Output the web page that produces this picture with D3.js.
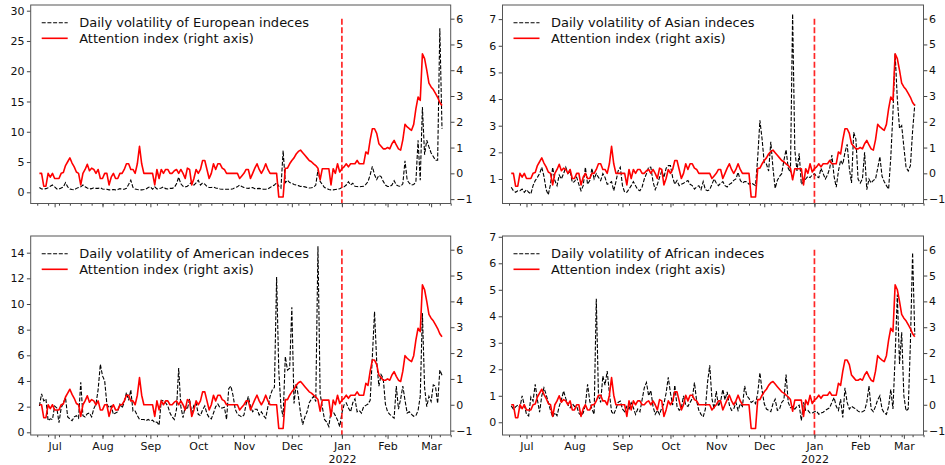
<!DOCTYPE html>
<html>
<head>
<meta charset="utf-8">
<script src="https://cdn.jsdelivr.net/npm/d3@7"></script>
<style>
body { margin: 0; background: #fff; }
text { font-family: "DejaVu Sans", sans-serif; }
</style>
</head>
<body>
<script>
// Attention index (right axis), one value per business day, Jun 22 2021 .. Mar 8 2022
var attention = [
 0, 0, -0.5, -0.5, 0, -0.15, 0, -0.2, -0.2, -0.2,
 0, 0.03, 0.3, 0.45, 0.6, 0.4, 0.25, 0.05, 0, -0.45,
 0, 0.15, 0.35, 0.1, 0.2, 0.15, 0, 0.15, -0.2, -0.2,
 0, 0, -0.45, -0.15, 0, -0.2, -0.2, 0, 0, 0.15,
 0.37, 0.37, 0.15, 0.15, 0, 0.37, 1.05, 0.37, 0, 0,
 0, 0, 0, -0.45, 0.15, -0.2, 0.15, 0, 0.15, 0.15,
 0, 0, 0.1, 0.15, 0, 0.15, 0, -0.2, 0.2, 0.15,
 -0.45, -0.2, 0.15, 0, 0.15, 0.5, 0.5, 0.15, -0.2, 0,
 0.37, 0.15, 0.37, 0.37, 0.2, 0.15, 0, 0, 0, 0,
 0, 0, -0.2, -0.1, 0, 0.15, 0.15, -0.2, 0, 0.2,
 0.37, 0.15, 0, 0.15, 0.37, 0.15, 0, 0, 0, 0,
 -0.92, -0.92, -0.92, 0.2, 0.2, 0.37, 0.5, 0.6, 0.75, 0.85,
 0.9, 0.8, 0.7, 0.6, 0.5, 0.45, 0.37, 0.3, 0.2, -0.25,
 0.18, 0.18, 0.18, 0.18, -0.45, 0.18, 0, 0.37, 0.05, 0.18,
 0.25, 0.37, 0.25, 0.37, 0.37, 0.37, 0.5, 0.37, 0.37, 0.37,
 0.83, 0.75, 1.3, 1.73, 1.73, 1.55, 1.15, 1.05, 0.95, 0.95,
 1.0, 0.95, 1.15, 1.28, 1.1, 0.95, 0.9, 1.3, 1.9, 1.8,
 1.73, 1.67, 1.9, 2.5, 2.96, 2.83, 4.64, 4.45, 4.0, 3.5,
 3.35, 3.25, 3.1, 2.95, 2.75, 2.63
];

var volEurope = [
 0.8, 0.55, 0.55, 0.6, 0.75, 1.0, 1.2, 0.9, 0.55, 0.55,
 0.7, 0.9, 1.6, 0.9, 0.55, 0.45, 0.4, 0.65, 0.8, 0.9,
 1.2, 0.9, 0.7, 0.55, 0.6, 0.75, 0.65, 0.65, 0.75, 0.55,
 0.5, 0.5, 0.4, 0.4, 0.45, 0.4, 0.45, 0.6, 0.5, 0.5,
 0.65, 1.3, 2.0, 0.8, 0.55, 0.45, 0.4, 0.4, 0.45, 0.55,
 0.8, 0.9, 0.5, 0.9, 0.55, 0.6, 0.7, 0.9, 0.6, 0.55,
 0.65, 0.65, 0.8, 1.4, 2.5, 1.4, 1.0, 0.9, 1.0, 1.35,
 1.7, 1.2, 1.55, 2.0, 1.2, 1.55, 1.35, 0.95, 0.8, 0.8,
 0.85, 0.7, 0.65, 0.55, 0.5, 0.5, 0.5, 0.5, 0.5, 0.6,
 0.8, 0.9, 1.2, 0.95, 0.8, 0.7, 0.65, 0.75, 0.8, 0.6,
 0.6, 0.65, 0.55, 0.5, 0.5, 0.55, 0.8, 1.0, 1.2, 1.6,
 1.0, 0.7, 6.9, 1.6, 2.0, 1.6, 1.5, 1.3, 1.2, 1.1,
 0.95, 1.0, 0.9, 0.8, 0.7, 0.75, 0.85, 1.2, 3.7, 1.8,
 1.3, 0.8, 0.65, 0.45, 0.4, 0.4, 0.45, 0.5, 0.6, 0.8,
 0.9, 1.2, 1.76, 1.2, 1.5, 1.0, 0.95, 0.9, 0.95, 1.0,
 1.3, 1.76, 2.9, 4.3, 2.9, 2.1, 2.8, 2.6, 1.8, 1.2,
 0.95, 0.95, 1.2, 1.9, 1.2, 1.05, 1.0, 1.4, 5.2, 2.0,
 1.5, 1.2, 1.3, 1.7, 8.6, 2.0, 14.1, 6.2, 8.6, 7.5,
 6.5, 5.9, 5.3, 5.3, 27.1, 10.5
];

var volAsia = [
 0.69, 0.56, 0.5, 0.56, 0.56, 0.62, 0.5, 0.6, 0.5, 0.44,
 0.75, 0.94, 1.06, 1.2, 1.44, 1.1, 0.6, 0.41, 0.8, 1.44,
 0.94, 0.75, 1.15, 1.0, 1.2, 1.44, 1.2, 1.3, 0.87, 0.9,
 1.06, 0.8, 0.56, 0.75, 1.44, 0.8, 0.94, 1.4, 1.0, 1.2,
 1.06, 0.94, 1.2, 1.06, 0.8, 0.84, 0.9, 0.56, 0.9, 1.3,
 1.44, 0.75, 0.5, 0.5, 0.62, 0.75, 0.9, 0.75, 0.6, 0.56,
 0.7, 1.0, 1.2, 1.45, 1.44, 0.9, 0.6, 0.8, 1.06, 1.3,
 1.06, 1.4, 1.5, 1.5, 1.06, 0.8, 0.94, 0.75, 0.8, 0.84,
 0.9, 0.94, 0.8, 0.75, 0.62, 0.7, 0.75, 0.6, 0.9, 0.6,
 0.56, 0.6, 0.8, 1.0, 0.85, 0.75, 0.84, 0.9, 0.75, 0.7,
 0.8, 0.85, 0.95, 1.0, 1.25, 0.95, 0.85, 0.9, 0.9, 0.8,
 0.85, 0.8, 0.75, 1.8, 3.2, 2.5, 1.6, 1.56, 1.3, 2.4,
 1.4, 0.65, 0.95, 1.1, 1.2, 1.7, 2.1, 1.4, 1.25, 7.2,
 2.1, 1.3, 1.96, 0.8, 0.9, 1.0, 1.1, 1.05, 1.15, 1.2,
 1.1, 1.05, 1.4, 1.2, 1.0, 1.15, 1.4, 1.9, 1.1, 0.69,
 1.3, 1.7, 1.55, 2.0, 2.3, 1.4, 0.85, 2.75, 2.5, 1.0,
 0.85, 1.0, 2.0, 0.6, 1.0, 0.85, 0.95, 1.0, 1.4, 1.84,
 1.1, 0.9, 0.75, 0.62, 1.8, 3.5, 5.7, 4.0, 2.9, 3.0,
 2.2, 1.44, 1.3, 1.5, 2.8, 3.8
];

var volAmerica = [
 2.05, 3.0, 2.45, 2.6, 0.9, 1.05, 1.0, 2.05, 1.9, 0.75,
 1.9, 2.3, 2.7, 1.2, 1.05, 0.9, 1.2, 1.3, 1.1, 3.9,
 1.3, 1.2, 1.45, 1.5, 1.2, 1.85, 2.2, 3.35, 5.3, 4.4,
 4.0, 2.2, 1.9, 2.05, 1.4, 1.5, 1.6, 2.2, 1.9, 2.35,
 3.1, 2.5, 3.3, 1.65, 1.65, 1.3, 1.0, 1.0, 1.0, 0.9,
 1.0, 0.9, 0.95, 0.75, 0.8, 0.55, 2.5, 2.45, 2.3, 2.05,
 1.5, 1.2, 1.0, 1.8, 5.0, 2.0, 1.15, 2.0, 1.8, 2.6,
 1.5, 2.1, 2.3, 1.4, 1.3, 1.75, 2.05, 1.45, 1.15, 1.05,
 1.5, 2.0, 2.2, 1.9, 1.9, 1.95, 1.0, 3.4, 3.6, 2.85,
 1.8, 1.4, 1.3, 1.2, 1.35, 2.2, 2.8, 2.0, 1.6, 1.8,
 1.8, 1.35, 1.6, 1.3, 1.1, 2.0, 2.8, 3.3, 3.5, 12.1,
 4.8, 2.0, 1.2, 5.9, 4.85, 5.0, 9.75, 2.25, 3.8, 2.8,
 1.5, 0.6, 1.2, 1.6, 2.3, 2.6, 2.8, 2.4, 14.5, 3.0,
 2.0, 1.0, 0.8, 0.45, 1.7, 1.6, 1.3, 0.95, 0.45, 1.5,
 2.15, 2.3, 1.9, 1.6, 2.3, 2.6, 1.6, 1.7, 1.5, 2.0,
 2.1, 2.2, 2.5, 5.9, 9.4, 5.5, 3.6, 4.5, 4.2, 2.2,
 1.6, 1.4, 1.25, 1.1, 3.6, 1.8, 2.6, 3.6, 2.5, 1.5,
 1.6, 1.4, 1.25, 1.3, 1.7, 2.8, 9.3, 3.5, 2.0, 2.8,
 2.4, 3.7, 3.6, 2.25, 4.85, 4.45
];

var volAfrica = [
 0.62, 0.5, 0.58, 0.65, 0.55, 1.0, 0.65, 0.3, 0.24, 0.95,
 0.8, 1.43, 0.85, 0.38, 1.0, 1.3, 1.05, 0.75, 0.45, 0.2,
 0.36, 0.25, 0.6, 0.85, 1.18, 0.9, 0.65, 0.55, 0.7, 0.6,
 0.6, 0.35, 0.25, 0.35, 0.65, 1.43, 0.8, 0.5, 0.3, 4.66,
 1.0, 0.75, 1.75, 1.4, 1.93, 1.1, 0.4, 0.3, 0.5, 0.75,
 0.8, 0.5, 0.4, 0.6, 0.5, 0.74, 0.55, 0.3, 0.5, 0.4,
 0.85, 1.3, 1.5, 1.0, 1.2, 0.6, 0.3, 0.45, 0.3, 0.55,
 0.7, 1.1, 1.7, 1.1, 0.65, 1.4, 0.6, 0.45, 0.55, 1.0,
 0.65, 0.6, 0.75, 0.9, 1.5, 0.8, 0.45, 0.3, 0.2, 0.5,
 1.5, 2.15, 0.9, 0.5, 1.18, 0.6, 0.8, 1.24, 0.85, 1.15,
 0.65, 0.45, 0.5, 0.75, 0.45, 0.7, 0.6, 1.37, 1.0, 0.9,
 0.75, 0.8, 0.7, 1.1, 1.87, 1.2, 0.7, 0.5, 0.45, 0.4,
 0.7, 0.87, 0.45, 0.5, 0.75, 0.85, 1.8, 0.75, 0.55, 0.6,
 0.5, 0.6, 0.65, 0.06, 0.75, 0.45, 0.45, 0.35, 0.35, 0.4,
 0.42, 0.3, 0.35, 0.38, 0.45, 0.5, 0.55, 0.75, 0.93, 0.6,
 0.45, 0.87, 0.18, 1.3, 0.75, 0.5, 0.6, 0.55, 0.5, 0.42,
 0.38, 0.4, 0.45, 0.75, 1.37, 0.5, 0.4, 0.6, 0.85, 1.0,
 0.5, 0.35, 0.3, 0.6, 1.24, 0.5, 2.5, 4.82, 2.2, 3.4,
 1.0, 0.43, 0.5, 3.0, 6.4, 3.3
];

var regions = ["European", "Asian", "American", "African"];
var leftTicks = [
 [0, 5, 10, 15, 20, 25, 30],
 [1, 2, 3, 4, 5, 6, 7],
 [0, 2, 4, 6, 8, 10, 12, 14],
 [0, 1, 2, 3, 4, 5, 6, 7]
];
var rightTicks = [-1, 0, 1, 2, 3, 4, 5, 6];

// business-day axis (pandas period axis): Jun 16 2021 .. Mar 14 2022
var axisStart = new Date(2021, 5, 16), axisEnd = new Date(2022, 2, 15);
var dataStart = new Date(2021, 5, 22);
var markDate = new Date(2022, 0, 3);

var bdays = d3.timeDay.range(axisStart, axisEnd)
  .filter(function(d) { return d.getDay() !== 0 && d.getDay() !== 6; });
var firstData = bdays.findIndex(function(d) { return +d === +dataStart; });
var markIdx = bdays.findIndex(function(d) { return +d === +markDate; });
var monthStarts = [], weekStarts = [];
bdays.forEach(function(d, i) {
  if (i === 0) return;
  if (d.getMonth() !== bdays[i - 1].getMonth()) monthStarts.push(i);
  if (d.getDay() === 1) weekStarts.push(i);
});

var layout = [
 {left: 30.7, right: 450.7, top: 5, bottom: 203.5, yDom: [-1.85, 30.94], labels: false},
 {left: 502.5, right: 923.5, top: 5, bottom: 203.5, yDom: [0.08, 7.53], labels: false},
 {left: 30.7, right: 450.7, top: 236, bottom: 435, yDom: [-0.21, 15.3], labels: true},
 {left: 502.5, right: 923.5, top: 236, bottom: 435, yDom: [-0.48, 7.03], labels: true}
];
var rightDom = [-1.17, 6.53];
var vols = [volEurope, volAsia, volAmerica, volAfrica];

var svg = d3.select("body").append("svg")
  .attr("width", 945).attr("height", 465);

var fmtMonth = d3.timeFormat("%b");
var minus = function(d) { return d < 0 ? "\u2212" + (-d) : String(d); };

layout.forEach(function(p, k) {
  var x = d3.scaleLinear().domain([0, bdays.length - 1]).range([p.left, p.right]);
  var y = d3.scaleLinear().domain(p.yDom).range([p.bottom, p.top]);
  var y2 = d3.scaleLinear().domain(rightDom).range([p.bottom, p.top]);
  var g = svg.append("g");

  g.append("clipPath").attr("id", "clip" + k).append("rect")
    .attr("x", p.left).attr("y", p.top)
    .attr("width", p.right - p.left).attr("height", p.bottom - p.top);
  var plot = g.append("g").attr("clip-path", "url(#clip" + k + ")");

  var volLine = d3.line().x(function(d, i) { return x(i + firstData); }).y(function(d) { return y(d); });
  var attLine = d3.line().x(function(d, i) { return x(i + firstData); }).y(function(d) { return y2(d); });

  plot.append("path").datum(vols[k]).attr("d", volLine)
    .attr("fill", "none").attr("stroke", "#000").attr("stroke-width", 1.1)
    .attr("stroke-dasharray", "4,1.7");
  plot.append("path").datum(attention).attr("d", attLine)
    .attr("fill", "none").attr("stroke", "#ff0000").attr("stroke-width", 1.6)
    .attr("stroke-linejoin", "round");
  plot.append("line")
    .attr("x1", x(markIdx)).attr("x2", x(markIdx))
    .attr("y1", y2(6)).attr("y2", p.bottom)
    .attr("stroke", "#ff0000").attr("stroke-opacity", 0.85)
    .attr("stroke-width", 1.7).attr("stroke-dasharray", "6,2.6");

  // axes
  var xMinor = g.append("g").attr("transform", "translate(0," + p.bottom + ")")
    .call(d3.axisBottom(x).tickValues(weekStarts).tickSize(2.2).tickFormat(""));
  var xMajor = g.append("g").attr("transform", "translate(0," + p.bottom + ")")
    .call(d3.axisBottom(x).tickValues(monthStarts).tickSize(3.8).tickPadding(3)
      .tickFormat(function(i) { return p.labels ? fmtMonth(bdays[i]) : ""; }));
  if (p.labels) {
    xMajor.selectAll(".tick text").each(function(i) {
      if (bdays[i].getMonth() === 0) {
        d3.select(this).append("tspan").attr("x", 0).attr("dy", "1.2em")
          .text(bdays[i].getFullYear());
      }
    });
  }
  var yLeft = g.append("g").attr("transform", "translate(" + p.left + ",0)")
    .call(d3.axisLeft(y).tickValues(leftTicks[k]).tickSize(3.8).tickPadding(2.5));
  var yRight = g.append("g").attr("transform", "translate(" + p.right + ",0)")
    .call(d3.axisRight(y2).tickValues(rightTicks).tickSize(3.8).tickPadding(1.8).tickFormat(minus));

  [xMinor, xMajor, yLeft, yRight].forEach(function(a) {
    a.select(".domain").remove();
    a.selectAll(".tick line").attr("stroke", "#444");
    a.selectAll(".tick text").attr("fill", "#111").style("font-size", "11px")
      .style("font-family", "DejaVu Sans");
  });

  g.append("rect")
    .attr("x", p.left).attr("y", p.top)
    .attr("width", p.right - p.left).attr("height", p.bottom - p.top)
    .attr("fill", "none").attr("stroke", "#555").attr("stroke-width", 1);

  // legend
  var lg = g.append("g").attr("transform", "translate(" + p.left + "," + p.top + ")");
  var items = [
    {label: "Daily volatility of " + regions[k] + " indeces", color: "#000", dash: "4,1.7", w: 1.1},
    {label: "Attention index (right axis)", color: "#ff0000", dash: null, w: 1.6}
  ];
  items.forEach(function(it, r) {
    var yy = 17.8 + r * 15.5;
    lg.append("line").attr("x1", 11).attr("x2", 37).attr("y1", yy).attr("y2", yy)
      .attr("stroke", it.color).attr("stroke-width", it.w)
      .attr("stroke-dasharray", it.dash);
    lg.append("text").attr("x", 48.5).attr("y", yy + 4.6)
      .style("font-size", "13px").attr("fill", "#111").text(it.label);
  });
});
</script>
</body>
</html>
